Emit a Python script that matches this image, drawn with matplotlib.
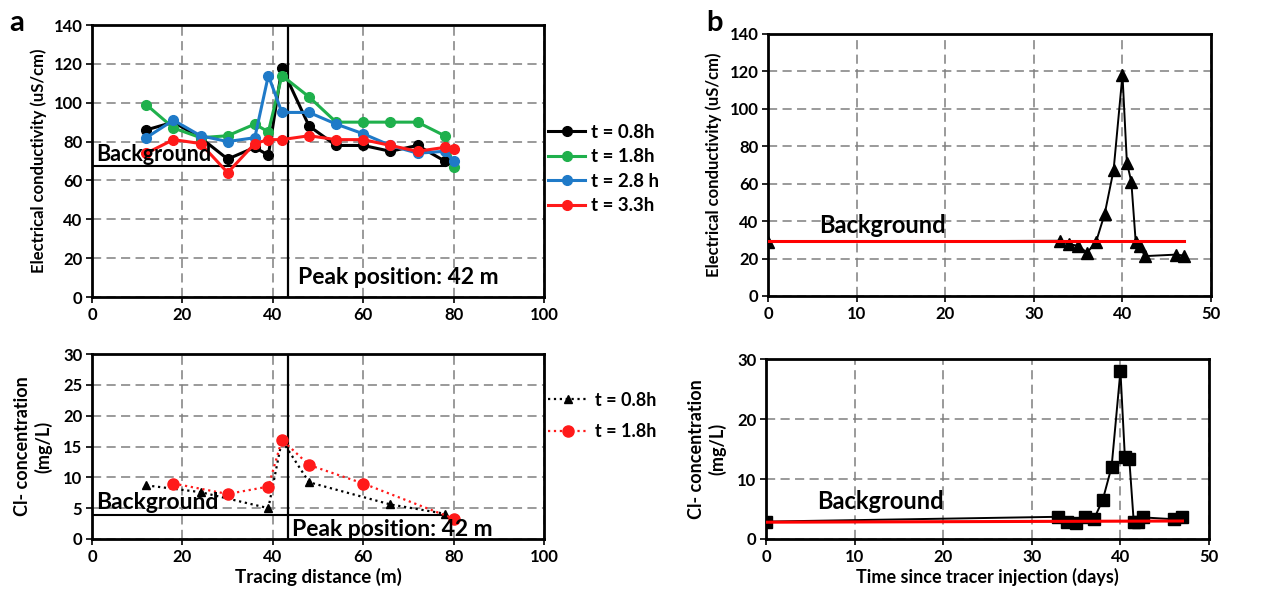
import numpy as np
import matplotlib.pyplot as plt

plt.rcParams['font.family'] = ['Lato', 'DejaVu Sans']
plt.rcParams['font.weight'] = 'bold'

# panel a, top: electrical conductivity along the tracing distance
dist = [12, 18, 24, 30, 36, 39, 42, 48, 54, 60, 66, 72, 78, 80]
ec_08 = [86, 90, 82, 71, 77, 73, 118, 88, 78, 78, 75, 78, 70]
ec_18 = [99, 87, 82, 83, 89, 85, 114, 103, 90, 90, 90, 90, 83, 67]
ec_28 = [82, 91, 83, 80, 82, 114, 95, 95, 89, 84, 78, 74, 75, 70]
ec_33 = [74, 81, 79, 64, 79, 81, 81, 83, 81, 81, 78, 75, 77, 76]
ec_bg_a = 67.5

# panel a, bottom: Cl- concentration
cl_dist_08 = [12, 24, 39, 42, 48, 66, 78]
cl_08 = [8.7, 7.6, 5.0, 16.0, 9.2, 5.6, 4.1]
cl_dist_18 = [18, 30, 39, 42, 48, 60, 80]
cl_18 = [9.0, 7.3, 8.5, 16.1, 12.0, 9.0, 3.3]
cl_bg_a = 3.85

peak_x = 43.3

# panel b: breakthrough curves at the outlet
days = [0, 33, 34, 35, 36, 37, 38, 39, 40, 40.5, 41, 41.5, 42, 42.5, 46, 47]
ec_b = [29, 29.5, 27.7, 26.8, 23.2, 28.6, 44, 67.3, 118.2, 71.3, 61, 28.6, 26.8, 21.3, 22.1, 21.6]
cl_b = [2.9, 3.7, 2.9, 2.6, 3.7, 3.3, 6.5, 12.0, 28.0, 13.7, 13.3, 2.9, 2.9, 3.6, 3.3, 3.6]
ec_bg_b = 29.5
cl_bg_b = [2.8, 3.0]

fig = plt.figure(figsize=(12.68, 5.94), dpi=100)
ax1 = fig.add_axes([0.0726, 0.5, 0.3565, 0.4579])
ax2 = fig.add_axes([0.0726, 0.0926, 0.3565, 0.3114])
ax3 = fig.add_axes([0.6057, 0.5017, 0.3494, 0.4411])
ax4 = fig.add_axes([0.6041, 0.0926, 0.3494, 0.303])

tick_fs = 12
for ax in (ax1, ax2, ax3, ax4):
    ax.grid(True, color='#7f7f7f', linestyle=(0, (6, 3.5)), linewidth=1.1)
    ax.set_axisbelow(True)
    for s in ax.spines.values():
        s.set_linewidth(2)
        s.set_color('black')
    ax.tick_params(direction='out', length=4, width=1.2, labelsize=tick_fs, pad=3)

# ---- a top
ax1.plot(dist[:13], ec_08, '-o', color='black', lw=2.2, ms=7, label='t = 0.8h', zorder=3)
ax1.plot(dist, ec_18, '-o', color='#1fb04c', lw=2.2, ms=7, label='t = 1.8h', zorder=3)
ax1.plot(dist, ec_28, '-o', color='#1f7ac8', lw=2.2, ms=7, label='t = 2.8 h', zorder=3)
ax1.plot(dist, ec_33, '-o', color='#ff1a1a', lw=2.2, ms=7, label='t = 3.3h', zorder=3)
ax1.plot([0, 78], [ec_bg_a, ec_bg_a], color='black', lw=1.5, zorder=2)
ax1.axvline(peak_x, color='black', lw=1.6, zorder=2)
ax1.text(1, ec_bg_a + 0.5, 'Background', fontsize=15.5, fontweight='bold', va='bottom', zorder=4)
ax1.text(45.5, 10, 'Peak position: 42 m', fontsize=16.5, fontweight='bold', va='center')
ax1.set_xlim(0, 100)
ax1.set_ylim(0, 140)
ax1.set_xticks(range(0, 101, 20))
ax1.set_yticks(range(0, 141, 20))
ax1.set_ylabel('Electrical conductivity (uS/cm)', fontsize=12, fontweight='bold', labelpad=5)
ax1.legend(loc='center left', bbox_to_anchor=(1.0, 0.47), frameon=False, fontsize=13.5,
           handlelength=2.0, handletextpad=0.3, labelspacing=0.4, borderpad=0, borderaxespad=0.2)

# ---- a bottom
ax2.plot(cl_dist_08, cl_08, ':^', color='black', lw=1.6, ms=6, label='t = 0.8h', zorder=3)
ax2.plot(cl_dist_18, cl_18, ':o', color='#ff1a1a', lw=1.6, ms=8, label='t = 1.8h', zorder=3)
ax2.plot([0, 78], [cl_bg_a, cl_bg_a], color='black', lw=1.5, zorder=2)
ax2.axvline(peak_x, color='black', lw=1.6, zorder=2)
ax2.text(1, cl_bg_a + 0.4, 'Background', fontsize=16.5, fontweight='bold', va='bottom', zorder=4)
ax2.text(44.2, 1.6, 'Peak position: 42 m', fontsize=16.5, fontweight='bold', va='center')
ax2.set_xlim(0, 100)
ax2.set_ylim(0, 30)
ax2.set_xticks(range(0, 101, 20))
ax2.set_yticks(range(0, 31, 5))
ax2.set_xlabel('Tracing distance (m)', fontsize=13.5, fontweight='bold', labelpad=2)
ax2.set_ylabel('Cl- concentration\n(mg/L)', fontsize=13, fontweight='bold', labelpad=8)
ax2.legend(loc='center left', bbox_to_anchor=(1.0, 0.665), frameon=False, fontsize=13,
           handlelength=2.3, handletextpad=0.3, labelspacing=0.8, borderpad=0, borderaxespad=0.2)

# ---- b top
ax3.plot(days, ec_b, '-^', color='black', lw=1.4, ms=8, zorder=3)
ax3.plot([0, 47], [ec_bg_b, ec_bg_b], color='#ff0000', lw=2.2, zorder=4)
ax3.text(5.8, ec_bg_b + 2, 'Background', fontsize=17, fontweight='bold', va='bottom')
ax3.set_xlim(0, 50)
ax3.set_ylim(0, 140)
ax3.set_xticks(range(0, 51, 10))
ax3.set_yticks(range(0, 141, 20))
ax3.set_ylabel('Electrical conductivity (uS/cm)', fontsize=12, fontweight='bold', labelpad=5)

# ---- b bottom
ax4.plot(days, cl_b, '-s', color='black', lw=1.4, ms=8, zorder=3)
ax4.plot([0, 47], cl_bg_b, color='#ff0000', lw=2.2, zorder=4)
ax4.text(5.8, 4.3, 'Background', fontsize=17, fontweight='bold', va='bottom')
ax4.set_xlim(0, 50)
ax4.set_ylim(0, 30)
ax4.set_xticks(range(0, 51, 10))
ax4.set_yticks(range(0, 31, 10))
ax4.set_xlabel('Time since tracer injection (days)', fontsize=13, fontweight='bold', labelpad=2)
ax4.set_ylabel('Cl- concentration\n(mg/L)', fontsize=13, fontweight='bold', labelpad=8)

fig.text(0.007, 0.962, 'a', fontsize=21, fontweight='bold', va='center')
fig.text(0.557, 0.962, 'b', fontsize=21, fontweight='bold', va='center')

fig.savefig('out.png', dpi=100)
